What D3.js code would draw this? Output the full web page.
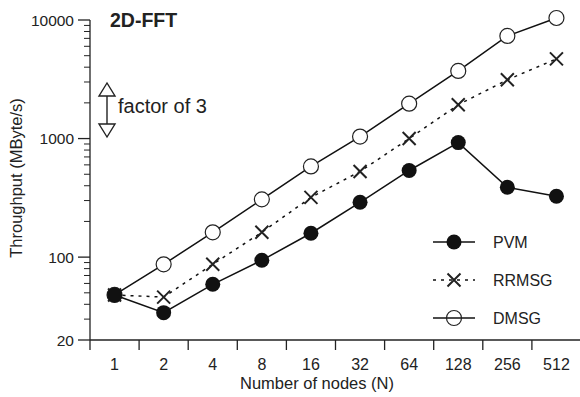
<!DOCTYPE html>
<html lang="en">
<head>
<meta charset="UTF-8">
<title>2D-FFT</title>
<script src="https://cdn.jsdelivr.net/npm/d3@7"></script>
<style>
  body { margin:0; background:#fff; }
  text { font-family: "Liberation Sans", Arial, sans-serif; fill:#222; }
</style>
</head>
<body>
<div id="grafica"></div>
<script>
// data
nodes = ['1','2','4','8','16','32','64','128','256','512']
pvm   = [48, 34, 59, 94, 159, 290, 538, 925, 388, 326]
rrmsg = [48, 46, 87, 162, 319, 528, 1000, 1930, 3130, 4700]
dmsg  = [48, 87, 162, 307, 582, 1040, 1970, 3720, 7340, 10400]
yTicks = [20, 100, 1000, 10000]

ancho_total = 580
alto_total = 397
margin = {top:20, right:-1, bottom:56, left:90}
ancho = ancho_total - margin.left - margin.right
alto = alto_total - margin.top - margin.bottom

svg = d3.select('#grafica').append('svg')
    .attr('width', ancho_total)
    .attr('height', alto_total)

g = svg.append('g')
    .attr('transform', 'translate(' + margin.left + ',' + margin.top + ')')

x = d3.scaleBand().domain(nodes).range([0, ancho])
y = d3.scaleLog().domain([20, 10000]).range([alto - 1, 0])

// y axis with minor log ticks
minor = []
for (let dec = 10; dec < 10000; dec *= 10)
  for (let k = 1; k < 10; k++) {
    v = dec * k
    if (v > 20 && v < 10000 && yTicks.indexOf(v) < 0) minor.push(v)
  }

yAx = g.append('g')
yAx.append('line').attr('x1', 0).attr('x2', 0).attr('y1', y(10000)).attr('y2', y(20))
    .attr('stroke', '#222').attr('stroke-width', 1.3)
yAx.selectAll('.min').data(minor).enter().append('line')
    .attr('x1', -6).attr('x2', 0).attr('y1', d => y(d)).attr('y2', d => y(d))
    .attr('stroke', '#222').attr('stroke-width', 1)
yAx.selectAll('.maj').data(yTicks).enter().append('line')
    .attr('x1', -12).attr('x2', 0).attr('y1', d => y(d)).attr('y2', d => y(d))
    .attr('stroke', '#222').attr('stroke-width', 1.3)
yAx.selectAll('.lab').data(yTicks).enter().append('text')
    .attr('x', -16).attr('y', d => y(d)).attr('dy', '0.36em')
    .attr('text-anchor', 'end').attr('font-size', 15.5)
    .text(d => d)

// x axis with ticks between the bands
xAx = g.append('g').attr('transform', 'translate(0,' + y(20) + ')')
xAx.append('line').attr('x1', 0).attr('x2', ancho).attr('stroke', '#222').attr('stroke-width', 1.3)
bounds = nodes.map(d => x(d)).concat([ancho])
xAx.selectAll('.tk').data(bounds).enter().append('line')
    .attr('x1', d => d).attr('x2', d => d)
    .attr('y1', 0).attr('y2', 10)
    .attr('stroke', '#222').attr('stroke-width', 1.3)
xAx.selectAll('.lab').data(nodes).enter().append('text')
    .attr('x', d => x(d) + x.bandwidth() / 2).attr('y', 30)
    .attr('text-anchor', 'middle').attr('font-size', 16)
    .text(d => d)

svg.append('text').attr('x', 317).attr('y', 389)
    .attr('text-anchor', 'middle').attr('font-size', 16.5)
    .text('Number of nodes (N)')
svg.append('text').attr('transform', 'translate(22,178) rotate(-90)')
    .attr('text-anchor', 'middle').attr('font-size', 16.5)
    .text('Throughput (MByte/s)')

svg.append('text').attr('x', 110).attr('y', 27)
    .attr('font-size', 19.5).attr('font-weight', 'bold')
    .text('2D-FFT')

// factor of 3 arrow
ar = svg.append('g').attr('stroke', '#222').attr('stroke-width', 1.4).attr('fill', '#fff')
ar.append('line').attr('x1', 107).attr('x2', 107).attr('y1', 95).attr('y2', 125)
ar.append('path').attr('d', 'M107,83 L99,96 L115,96 Z')
ar.append('path').attr('d', 'M107,137 L99,124 L115,124 Z')
svg.append('text').attr('x', 118).attr('y', 113).attr('font-size', 20)
    .text('factor of 3')

cx = (d, i) => x(nodes[i]) + x.bandwidth() / 2

linea = d3.line().x((d, i) => cx(d, i)).y(d => y(d))

series = [
  {name:'PVM',   vals:pvm,   dash:null,  mark:'dot'},
  {name:'RRMSG', vals:rrmsg, dash:'3,5', mark:'x'},
  {name:'DMSG',  vals:dmsg,  dash:null,  mark:'open'}
]

function marker(sel, kind, px, py, legend) {
  if (kind == 'dot') {
    sel.append('circle').attr('cx', px).attr('cy', py).attr('r', 7.5).attr('fill', '#111')
  } else if (kind == 'open') {
    sel.append('circle').attr('cx', px).attr('cy', py).attr('r', 7.5)
      .attr('fill', legend ? 'none' : '#fff').attr('stroke', '#222').attr('stroke-width', 1.2)
  } else {
    s = 6.5
    sel.append('path').attr('d', 'M' + (px - s) + ',' + (py - s) + 'L' + (px + s) + ',' + (py + s) +
        'M' + (px - s) + ',' + (py + s) + 'L' + (px + s) + ',' + (py - s))
      .attr('stroke', '#222').attr('stroke-width', 2).attr('fill', 'none')
  }
}

// draw DMSG and RRMSG first, PVM on top
series.slice().reverse().forEach(s => {
  g.append('path').attr('d', linea(s.vals))
    .attr('fill', 'none').attr('stroke', '#111').attr('stroke-width', 1.5)
    .attr('stroke-dasharray', s.dash)
  mg = g.append('g')
  s.vals.forEach((v, i) => marker(mg, s.mark, cx(v, i), y(v), false))
})

// legend
leg = svg.append('g')
series.forEach((s, i) => {
  ly = 242 + i * 38
  leg.append('line').attr('x1', 433).attr('x2', 475).attr('y1', ly).attr('y2', ly)
    .attr('stroke', '#111').attr('stroke-width', 1.5).attr('stroke-dasharray', s.dash)
  marker(leg, s.mark, 454, ly, true)
  leg.append('text').attr('x', 493).attr('y', ly).attr('dy', '0.36em')
    .attr('font-size', 16).text(s.name)
})
</script>
</body>
</html>
